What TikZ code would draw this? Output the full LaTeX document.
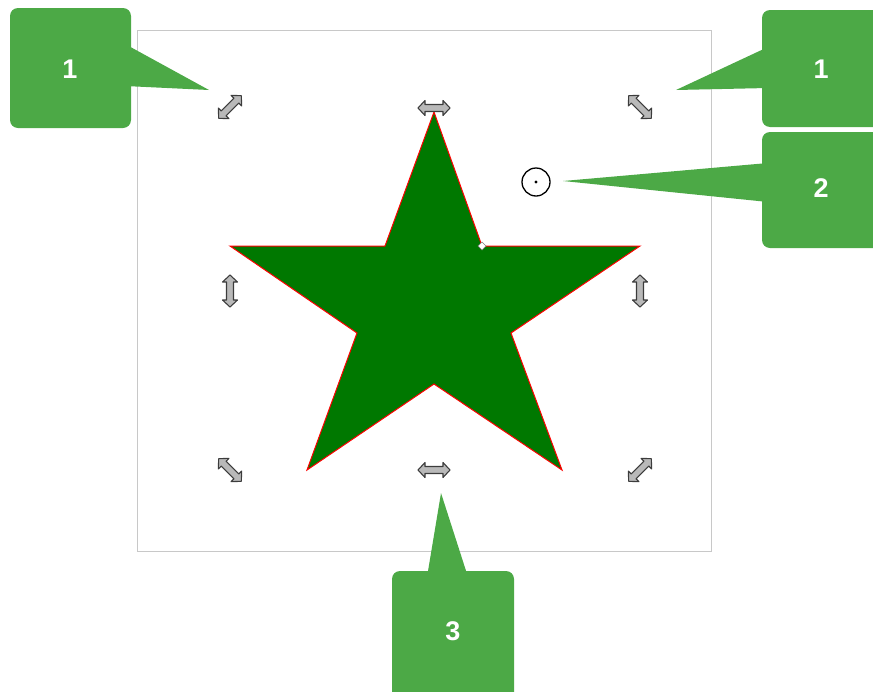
\documentclass[tikz,border=0pt]{standalone}
\usepackage{fontspec}
\setmainfont{Liberation Sans}
\definecolor{callgreen}{RGB}{76,169,70}
\definecolor{stargreen}{RGB}{0,120,0}
\definecolor{framegray}{RGB}{200,200,200}
\definecolor{handlefill}{RGB}{185,185,185}
\definecolor{handleline}{RGB}{60,60,60}
\tikzset{
  callbox/.style={fill=callgreen, rounded corners=8pt},
  callptr/.style={fill=callgreen},
  calltext/.style={text=white, font=\bfseries\fontsize{27}{30}\selectfont, inner sep=0pt},
  handlestyle/.style={fill=handlefill, draw=handleline, line width=1.1pt, line join=round},
  pics/dblarrow/.style={code={
    \path[handlestyle] (-16,0) -- (-9,-7.5) -- (-9,-3.5) -- (9,-3.5) -- (9,-7.5) -- (16,0)
      -- (9,7.5) -- (9,3.5) -- (-9,3.5) -- (-9,7.5) -- cycle;
  }}
}
\begin{document}
\begin{tikzpicture}[x=1pt,y=-1pt]
\useasboundingbox (0,0) rectangle (873,691);
% frame
\draw[framegray, line width=1pt] (137,30) rectangle (711,551);
% star
\draw[fill=stargreen, draw=red, line width=1pt, line join=miter]
  (434,112) -- (482,246) -- (640,246) -- (511,333) -- (562,470) -- (434,384)
  -- (307,470) -- (357,333) -- (230,246) -- (385,246) -- cycle;
\draw[fill=white, draw=gray, line width=0.5pt] (482,242) -- (486,246) -- (482,250) -- (478,246) -- cycle;
% handles
\pic at (434,108) {dblarrow};
\pic at (434,470) {dblarrow};
\pic[rotate=90] at (230,291) {dblarrow};
\pic[rotate=90] at (640,291) {dblarrow};
\pic[rotate=45] at (230,107) {dblarrow};
\pic[rotate=-45] at (640,107) {dblarrow};
\pic[rotate=-45] at (230,470) {dblarrow};
\pic[rotate=45] at (640,470) {dblarrow};
% rotation centre
\draw[black, line width=1.3pt] (536,182) circle (14);
\fill[black] (536,182) circle (1.6);
% callout 1 left
\fill[callbox] (10,8) rectangle (131,128);
\fill[callptr] (125,44) -- (209,90) -- (125,86) -- cycle;
\node[calltext] (c1l) at (70,69) {1};
% callout 1 right
\fill[callbox] (762,10) rectangle (890,127);
\fill[callptr] (768,47) -- (676,90) -- (768,88) -- cycle;
\node[calltext] (c1r) at (821,69) {1};
% callout 2
\fill[callbox] (762,132) rectangle (890,248);
\fill[callptr] (768,163) -- (563,181) -- (768,202) -- cycle;
\node[calltext] (c2) at (821,188) {2};
% callout 3
\fill[callbox] (392,571) rectangle (514,700);
\fill[callptr] (427,577) -- (441,493) -- (468,577) -- cycle;
\node[calltext] (c3) at (453,631) {3};
\end{tikzpicture}
\end{document}
